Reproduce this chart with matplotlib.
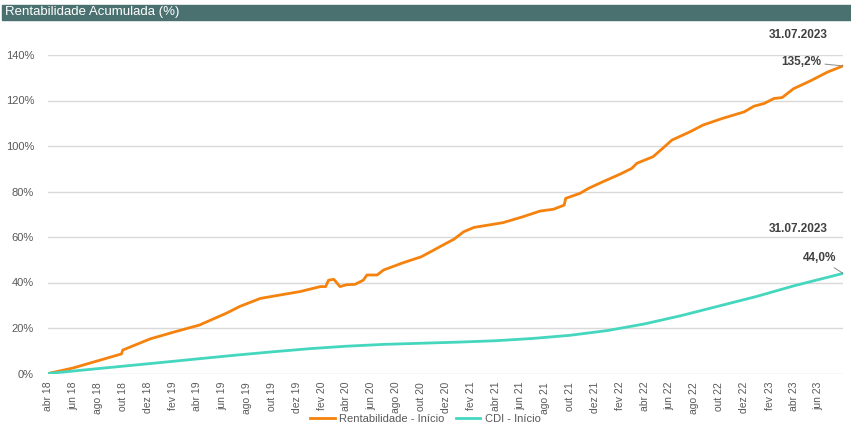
import pandas as pd
import matplotlib.pyplot as plt

plt.rcParams['font.family'] = ['Liberation Sans', 'DejaVu Sans']

# fund accumulated return (%)
fund_dates = [
    "2018-04-01", "2018-06-01", "2018-08-07", "2018-09-28", "2018-10-01",
    "2018-12-07", "2019-02-03", "2019-04-07", "2019-06-13", "2019-07-15",
    "2019-09-03", "2019-10-21", "2019-12-09", "2020-01-28", "2020-02-10",
    "2020-02-17", "2020-03-01", "2020-03-16", "2020-04-01", "2020-04-22",
    "2020-05-12", "2020-05-21", "2020-06-15", "2020-07-01", "2020-08-18",
    "2020-10-01", "2020-10-24", "2020-12-01", "2020-12-20", "2021-01-13",
    "2021-02-07", "2021-04-19", "2021-06-07", "2021-07-19", "2021-08-21",
    "2021-09-16", "2021-09-20", "2021-10-25", "2021-11-15", "2021-12-20",
    "2022-02-01", "2022-03-01", "2022-03-13", "2022-04-22", "2022-05-25",
    "2022-06-07", "2022-07-22", "2022-08-22", "2022-10-10", "2022-12-01",
    "2022-12-25", "2023-01-19", "2023-02-12", "2023-03-04", "2023-04-01",
    "2023-05-13", "2023-06-22", "2023-07-31",
]
fund_values = [
    0.0, 2.4, 5.9, 8.6, 10.3,
    15.2, 18.2, 21.3, 26.6, 29.5,
    33.0, 34.5, 36.0, 38.2, 38.2,
    41.0, 41.4, 38.2, 39.0, 39.2,
    41.0, 43.3, 43.3, 45.5, 48.7,
    51.3, 53.5, 57.2, 59.0, 62.3,
    64.2, 66.3, 68.9, 71.4, 72.2,
    74.0, 77.0, 79.2, 81.4, 84.3,
    87.7, 90.2, 92.4, 95.3, 100.5,
    102.6, 106.3, 109.2, 112.2, 115.0,
    117.5, 118.7, 120.9, 121.3, 125.2,
    128.7, 132.4, 135.2,
]

# CDI accumulated (%)
cdi_dates = [
    "2018-04-01", "2018-07-01", "2018-10-01", "2019-01-01", "2019-04-01",
    "2019-07-01", "2019-10-01", "2020-01-01", "2020-04-01", "2020-07-01",
    "2020-10-01", "2021-01-01", "2021-04-01", "2021-07-01", "2021-10-01",
    "2022-01-01", "2022-04-01", "2022-07-01", "2022-10-01", "2023-01-01",
    "2023-04-01", "2023-07-31",
]
cdi_values = [
    0.0, 1.6, 3.2, 4.8, 6.4,
    8.0, 9.5, 10.9, 12.0, 12.8,
    13.3, 13.8, 14.4, 15.4, 16.8,
    18.9, 21.8, 25.5, 29.7, 33.9,
    38.5, 44.0,
]

meses = ["jan", "fev", "mar", "abr", "mai", "jun",
         "jul", "ago", "set", "out", "nov", "dez"]

fund_x = pd.to_datetime(fund_dates)
cdi_x = pd.to_datetime(cdi_dates)

orange = "#f5820d"
teal = "#45d6be"
txt = "#595959"
grid = "#d9d9d9"

fig = plt.figure(figsize=(8.51, 4.28), dpi=100)
ax = fig.add_axes([48 / 851, 54.5 / 428, 795 / 851, 318.5 / 428])

ax.plot(fund_x, fund_values, color=orange, lw=2, label="Rentabilidade - Início",
        solid_joinstyle="round", zorder=3)
ax.plot(cdi_x, cdi_values, color=teal, lw=2, label="CDI - Início", zorder=3)

ax.set_xlim(pd.Timestamp("2018-04-01"), pd.Timestamp("2023-07-31"))
ax.set_ylim(0, 140)
ax.set_yticks(range(0, 141, 20))
ax.set_yticklabels([f"{v}%" for v in range(0, 141, 20)], fontsize=8, color=txt)

ticks = pd.date_range("2018-04-01", "2023-06-01", freq="2MS")
ax.set_xticks(ticks)
ax.set_xticklabels([f"{meses[d.month - 1]} {d.strftime('%y')}" for d in ticks],
                   rotation=90, fontsize=7.5, color=txt)

ax.grid(axis="y", color=grid, lw=1)
ax.set_axisbelow(True)
for s in ax.spines.values():
    s.set_visible(False)
ax.tick_params(axis="both", length=0)
ax.tick_params(axis="y", pad=10)
ax.tick_params(axis="x", pad=6)

# end-point annotations
end = pd.Timestamp("2023-07-31")
lab = "#404040"
ax.annotate("135,2%", xy=(end, 135.2), xytext=(-16, 3), textcoords="offset points",
            ha="right", va="center", fontsize=8.5, fontweight="bold", color=lab,
            arrowprops=dict(arrowstyle="-", color="#8c8c8c", lw=0.7,
                            shrinkA=1, shrinkB=0), annotation_clip=False)
ax.annotate("31.07.2023", xy=(end, 135.2), xytext=(-11, 22), textcoords="offset points",
            ha="right", va="center", fontsize=8.5, fontweight="bold", color=lab,
            annotation_clip=False)
ax.annotate("44,0%", xy=(end, 44.0), xytext=(-5, 11), textcoords="offset points",
            ha="right", va="center", fontsize=8.5, fontweight="bold", color=lab,
            arrowprops=dict(arrowstyle="-", color="#8c8c8c", lw=0.7,
                            shrinkA=1, shrinkB=0), annotation_clip=False)
ax.annotate("31.07.2023", xy=(end, 44.0), xytext=(-11, 32), textcoords="offset points",
            ha="right", va="center", fontsize=8.5, fontweight="bold", color=lab,
            annotation_clip=False)

# header bar
fig.patches.append(plt.Rectangle((2 / 851, 1 - 20 / 428), 849 / 851, 15 / 428,
                                 transform=fig.transFigure, color="#4a7170", zorder=0))
fig.text(5 / 851, 1 - 12.5 / 428, "Rentabilidade Acumulada (%)", color="white",
         fontsize=9.5, va="center", ha="left")

fig.legend(loc="center", bbox_to_anchor=(0.5, 9 / 428), ncol=2, frameon=False,
           fontsize=8, labelcolor=txt, handlelength=2.2, columnspacing=1.0,
           handletextpad=0.4)

fig.savefig("out.png", dpi=100)
